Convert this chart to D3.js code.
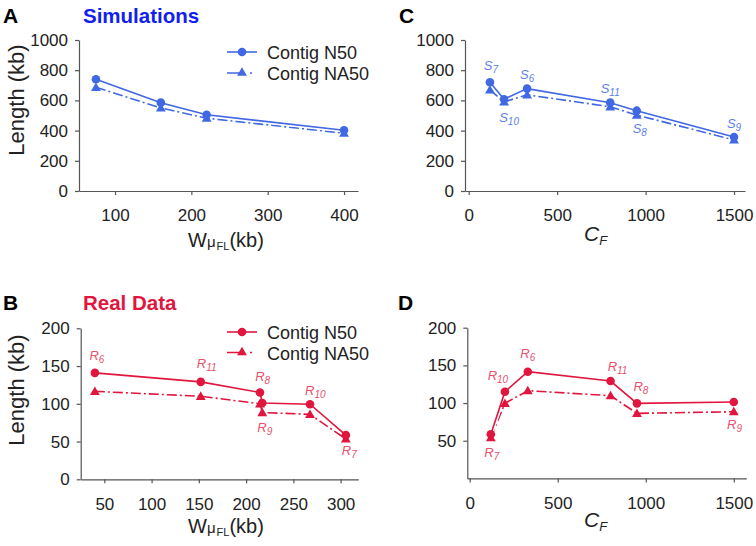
<!DOCTYPE html>
<html><head><meta charset="utf-8">
<script src="https://cdn.jsdelivr.net/npm/d3@7"></script>
<style>body{margin:0;background:#fff}svg{display:block;font-family:"Liberation Sans",Arial,sans-serif}</style>
</head><body>
<svg id="c" width="756" height="546"></svg>
<script>
// ---------------- data ----------------
const simW = [75, 160, 220, 400];
const simWN50 = [740, 585, 505, 402];
const simWNA50 = [687, 550, 482, 383];

const simCF = [120, 200, 330, 800, 950, 1500];
const simCFN50 = [720, 608, 678, 585, 532, 358];
const simCFNA50 = [670, 590, 637, 558, 503, 338];
const simCFLabels = ["7", "10", "6", "11", "8", "9"];

const realW = [40, 152, 214.7, 217.1, 267.6, 305.5];
const realWN50 = [141, 129, 115, 101, 99.5, 58.5];
const realWNA50 = [116.5, 110, 100, 88.5, 86, 53.5];
const realWLabels = ["6", "11", "8", "9", "10", "7"];

const realCF = [120, 200, 330, 800, 950, 1500];
const realCFN50 = [58.6, 115, 141.6, 129.2, 99.6, 101.4];
const realCFNA50 = [54, 99.6, 116.4, 109.8, 86.3, 88.5];
const realCFLabels = ["7", "10", "6", "11", "8", "9"];

const seriesNames = ["Contig N50", "Contig NA50"];
const wTicks = [100, 200, 300, 400];
const wTicksReal = [50, 100, 150, 200, 250, 300];
const cfTicks = [0, 500, 1000, 1500];
const simYTicks = [0, 200, 400, 600, 800, 1000];
const realYTicks = [0, 50, 100, 150, 200];
const realYTicksD = [50, 100, 150, 200];

// ---------------- layout / style ----------------
const BLUE = "#4068e2", BLUE_LBL = "#5d80ea", BLUE_TITLE = "#1020f0";
const RED = "#e0163e", RED_LBL = "#e8506e";
const DASH = "10,3,2,3";

// label offsets (px) relative to N50 point
const offC = [[1,-12],[5,22.7],[0,-10],[0,-10],[3,22],[0,-9]];
const offB = [[2,-12.7],[6,-14],[2.7,-11],[2.5,28.7],[5.3,-9.3],[3.5,20]];
const offD = [[1,22.7],[-7,-11.7],[0,-13.4],[7,-10],[4,-12],[0.7,27]];

const svg = d3.select("#c");
const fmt = d3.format("d");

function panel(cfg) {
  const g = svg.append("g");
  const x = d3.scaleLinear().domain(cfg.xDom).range(cfg.xR);
  const y = d3.scaleLinear().domain(cfg.yDom).range(cfg.yR);

  const xa = g.append("g").attr("transform", `translate(0,${cfg.yR[0]})`)
    .call(d3.axisBottom(x).tickValues(cfg.xTicks).tickFormat(fmt).tickSize(4).tickPadding(5).tickSizeOuter(0));
  const ya = g.append("g").attr("transform", `translate(${cfg.xR[0]},0)`)
    .call(d3.axisLeft(y).tickValues(cfg.yTicks).tickFormat(fmt).tickSize(4).tickPadding(7).tickSizeOuter(0));
  [xa, ya].forEach(a => {
    a.select(".domain").attr("stroke", "#555").attr("stroke-width", 1.2);
    a.selectAll(".tick line").attr("stroke", "#555").attr("stroke-width", 1.2);
    a.selectAll(".tick text").attr("fill", "#222").style("font-size", "17px")
      .style("font-family", '"Liberation Sans",Arial,sans-serif');
  });
  xa.selectAll(".tick text").attr("dy", "1.25em");

  const pts = (ys) => cfg.xs.map((v, i) => [x(v), y(ys[i])]);
  const line = d3.line();
  const draw = (ys, dashed) => {
    const p = pts(ys);
    g.append("path").attr("d", line(p)).attr("fill", "none").attr("stroke", "#fff").attr("stroke-width", 4.5);
    g.append("path").attr("d", line(p)).attr("fill", "none").attr("stroke", cfg.color)
      .attr("stroke-width", 1.6).attr("stroke-dasharray", dashed ? DASH : null);
  };
  draw(cfg.na50, true);
  draw(cfg.n50, false);
  const tri = d3.symbol().type(d3.symbolTriangle).size(42);
  g.selectAll(".tri").data(pts(cfg.na50)).join("path")
    .attr("transform", d => `translate(${d[0]},${d[1] + 0.8})`).attr("d", tri).attr("fill", cfg.color);
  g.selectAll(".cir").data(pts(cfg.n50)).join("circle")
    .attr("cx", d => d[0]).attr("cy", d => d[1]).attr("r", 4.3).attr("fill", cfg.color);

  if (cfg.labels) {
    const p = pts(cfg.n50);
    cfg.labels.forEach((s, i) => {
      const t = g.append("text").attr("x", p[i][0] + cfg.off[i][0]).attr("y", p[i][1] + cfg.off[i][1])
        .attr("text-anchor", "middle").attr("fill", cfg.lblColor).style("font-style", "italic");
      t.append("tspan").style("font-size", "13px").text(cfg.lblLetter);
      t.append("tspan").style("font-size", "10px").attr("dy", 3).text(s);
    });
  }

  // axis titles
  if (cfg.xTitle === "W") {
    const t = g.append("text").attr("x", cfg.xTitleX).attr("y", cfg.xTitleY).attr("fill", "#222");
    t.append("tspan").style("font-size", "20px").text("W");
    t.append("tspan").style("font-size", "15px").text("μ");
    t.append("tspan").style("font-size", "11px").attr("dy", 3).attr("dx", 1).text("FL");
    t.append("tspan").style("font-size", "20px").attr("dy", -3).text("(kb)");
  } else {
    const t = g.append("text").attr("x", cfg.xTitleX).attr("y", cfg.xTitleY).attr("fill", "#222")
      .style("font-style", "italic");
    t.append("tspan").style("font-size", "21px").text("C");
    t.append("tspan").style("font-size", "13px").attr("dy", 4).text("F");
  }
  if (cfg.yTitleY) {
    g.append("text").attr("transform", `translate(24,${cfg.yTitleY}) rotate(-90)`)
      .attr("text-anchor", "middle").attr("fill", "#222").style("font-size", "22px").text("Length (kb)");
  }
  // panel letter + title
  g.append("text").attr("x", cfg.letterX).attr("y", cfg.letterY).style("font-size", "21px")
    .style("font-weight", "bold").attr("fill", "#000").text(cfg.letter);
  if (cfg.title) {
    g.append("text").attr("x", 83).attr("y", cfg.letterY).style("font-size", "20.5px")
      .style("font-weight", "bold").attr("fill", cfg.titleColor).text(cfg.title);
  }
  // legend
  if (cfg.legendY) {
    cfg.legendY.forEach((ly, i) => {
      const lg = g.append("g");
      lg.append("line").attr("x1", 227).attr("x2", 257).attr("y1", ly).attr("y2", ly)
        .attr("stroke", cfg.color).attr("stroke-width", 1.6).attr("stroke-dasharray", i ? "17,6,2,10" : null);
      if (i === 0) lg.append("circle").attr("cx", 242).attr("cy", ly).attr("r", 4.3).attr("fill", cfg.color);
      else lg.append("path").attr("d", tri).attr("transform", `translate(242,${ly})`).attr("fill", cfg.color);
      lg.append("text").attr("x", 267).attr("y", ly + 7).style("font-size", "18px").attr("fill", "#222")
        .text(seriesNames[i]);
    });
  }
}

panel({ xDom: [52.8, 418.3], xR: [79, 358], yDom: [0, 1000], yR: [191, 40],
  xTicks: wTicks, yTicks: simYTicks, xs: simW, n50: simWN50, na50: simWNA50, color: BLUE,
  xTitle: "W", xTitleX: 188, xTitleY: 247, yTitleY: 100, letter: "A", letterX: 3, letterY: 23,
  title: "Simulations", titleColor: BLUE_TITLE, legendY: [52, 73] });

panel({ xDom: [-21, 1562], xR: [465, 745], yDom: [0, 1000], yR: [191, 40],
  xTicks: cfTicks, yTicks: simYTicks, xs: simCF, n50: simCFN50, na50: simCFNA50, color: BLUE,
  labels: simCFLabels, off: offC, lblLetter: "S", lblColor: BLUE_LBL,
  xTitle: "C", xTitleX: 584, xTitleY: 241, letter: "C", letterX: 399, letterY: 23 });

panel({ xDom: [25, 318.7], xR: [80.7, 358.3], yDom: [0, 200], yR: [479.3, 328.3],
  xTicks: wTicksReal, yTicks: realYTicks, xs: realW, n50: realWN50, na50: realWNA50, color: RED,
  labels: realWLabels, off: offB, lblLetter: "R", lblColor: RED_LBL,
  xTitle: "W", xTitleX: 188, xTitleY: 533, yTitleY: 390, letter: "B", letterX: 3, letterY: 310,
  title: "Real Data", titleColor: RED, legendY: [332, 352.5] });

panel({ xDom: [-13.6, 1571], xR: [467.3, 746.3], yDom: [0, 200], yR: [478.4, 327.7],
  xTicks: cfTicks, yTicks: realYTicksD, xs: realCF, n50: realCFN50, na50: realCFNA50, color: RED,
  labels: realCFLabels, off: offD, lblLetter: "R", lblColor: RED_LBL,
  xTitle: "C", xTitleX: 584, xTitleY: 527, letter: "D", letterX: 398, letterY: 310 });
</script>
</body></html>
